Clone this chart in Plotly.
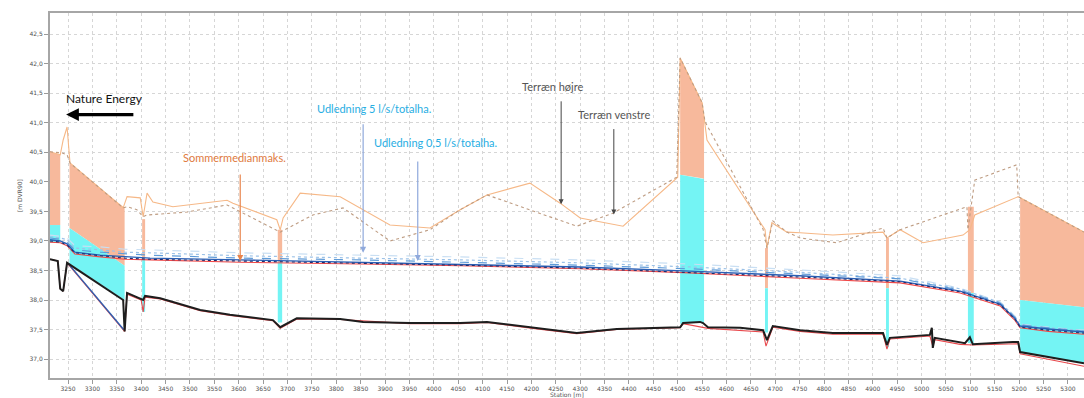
import plotly.graph_objects as go

# ---------------------------------------------------------------------------
# Length profile data: station [m] and levels [m DVR90]
# ---------------------------------------------------------------------------

# Channel bed (black) and lowest bed (red)
bed_station = [3213, 3229, 3234, 3240, 3248, 3363, 3366, 3371, 3404, 3408, 3439, 3521,
               3582, 3670, 3685, 3719, 3808, 3855, 3951, 4054, 4109, 4203, 4293, 4375,
               4505, 4511, 4546, 4552, 4562, 4628, 4675, 4683, 4695, 4751, 4818, 4921,
               4929, 4935, 5017, 5021, 5023, 5027, 5079, 5089, 5099, 5105, 5187, 5198,
               5202, 5333]
bed_level = [38.69, 38.66, 38.19, 38.15, 38.63, 38.00, 37.47, 38.12, 38.00, 38.07, 38.03, 37.83,
             37.75, 37.66, 37.54, 37.69, 37.68, 37.63, 37.61, 37.61, 37.63, 37.53, 37.44, 37.51,
             37.54, 37.61, 37.63, 37.61, 37.54, 37.53, 37.49, 37.32, 37.56, 37.49, 37.44, 37.44,
             37.24, 37.36, 37.41, 37.53, 37.19, 37.36, 37.29, 37.27, 37.37, 37.25, 37.29, 37.29,
             37.12, 36.93]

low_station = [3213, 3229, 3234, 3240, 3248, 3366, 3371, 3400, 3404, 3408, 3439, 3521,
               3582, 3670, 3685, 3719, 3808, 3951, 4054, 4109, 4203, 4293, 4375, 4505,
               4511, 4562, 4675, 4681, 4695, 4751, 4818, 4921, 4929, 4935, 5017, 5023,
               5027, 5079, 5105, 5187, 5198, 5202, 5333]
low_level = [38.69, 38.66, 38.19, 38.15, 38.63, 37.47, 38.10, 38.00, 37.80, 38.05, 38.02, 37.82,
             37.74, 37.65, 37.52, 37.68, 37.67, 37.60, 37.60, 37.62, 37.52, 37.43, 37.50, 37.53,
             37.60, 37.52, 37.46, 37.22, 37.54, 37.47, 37.42, 37.42, 37.17, 37.34, 37.39, 37.22,
             37.33, 37.25, 37.24, 37.26, 37.26, 37.09, 36.88]

# Short invert line through the first crossing
invert_station = [3250, 3364]
invert_level = [38.62, 37.50]

# Terrain, right and left bank
terrain_right_station = [3213, 3234, 3240, 3248, 3254, 3363, 3371, 3398, 3404, 3412, 3424, 3465,
                         3576, 3588, 3678, 3685, 3691, 3726, 3808, 3910, 3992, 4054, 4109, 4197,
                         4259, 4300, 4388, 4500, 4505, 4550, 4554, 4560, 4679, 4683, 4693, 4724,
                         4751, 4818, 4921, 4929, 4956, 5003, 5085, 5099, 5109, 5198, 5333]
terrain_right_level = [40.51, 40.46, 40.71, 40.93, 40.32, 39.56, 39.75, 39.73, 39.41, 39.81, 39.66, 39.58,
                       39.69, 39.64, 39.36, 39.19, 39.39, 39.81, 39.75, 39.27, 39.22, 39.53, 39.78, 39.98,
                       39.64, 39.39, 39.25, 40.08, 42.10, 41.34, 41.10, 40.71, 39.19, 38.88, 39.31, 39.15,
                       39.14, 39.10, 39.15, 39.05, 39.19, 38.97, 39.10, 39.19, 39.44, 39.75, 39.15]

terrain_left_station = [3213, 3238, 3248, 3254, 3363, 3371, 3391, 3404, 3412, 3494, 3576, 3685,
                        3752, 3814, 3910, 3992, 4054, 4109, 4293, 4367, 4498, 4505, 4550, 4556,
                        4675, 4683, 4695, 4724, 4751, 4826, 4921, 4929, 4956, 5093, 5095, 5109,
                        5195, 5198, 5333]
terrain_left_level = [40.51, 40.49, 40.46, 40.32, 39.56, 39.58, 39.53, 39.41, 39.44, 39.49, 39.61, 39.15,
                      39.44, 39.56, 39.00, 39.19, 39.53, 39.78, 39.25, 39.47, 40.08, 42.10, 41.34, 41.02,
                      39.20, 38.88, 39.34, 39.15, 39.05, 38.97, 39.22, 39.05, 39.19, 39.58, 39.19, 40.03,
                      40.29, 39.75, 39.15]

# Simulated water levels
wl_station = [3213, 3234, 3248, 3264, 3316, 3367, 3418, 3603, 3850, 4054,
              4300, 4525, 4750, 4956, 5079, 5161, 5191, 5202, 5260, 5333]
wl_a = [39.10, 39.08, 39.05, 38.92, 38.90, 38.86, 38.85, 38.80, 38.76, 38.73,
        38.68, 38.61, 38.51, 38.41, 38.20, 37.97, 37.73, 37.59, 37.54, 37.49]
wl_b = [39.07, 39.05, 39.02, 38.88, 38.85, 38.81, 38.80, 38.75, 38.71, 38.68,
        38.63, 38.56, 38.47, 38.37, 38.19, 37.96, 37.72, 37.58, 37.53, 37.48]
wl_c = [39.05, 39.03, 38.98, 38.85, 38.81, 38.78, 38.76, 38.71, 38.68, 38.64,
        38.59, 38.53, 38.44, 38.36, 38.17, 37.95, 37.71, 37.58, 37.53, 37.47]
wl_d = [39.02, 39.00, 38.95, 38.81, 38.76, 38.73, 38.71, 38.68, 38.64, 38.61,
        38.56, 38.49, 38.41, 38.32, 38.15, 37.93, 37.69, 37.56, 37.51, 37.46]
wl_e = [39.00, 38.98, 38.93, 38.80, 38.75, 38.71, 38.69, 38.66, 38.63, 38.59,
        38.54, 38.47, 38.39, 38.31, 38.14, 37.92, 37.68, 37.54, 37.49, 37.44]
wl_summer = [38.98, 38.97, 38.92, 38.78, 38.73, 38.69, 38.68, 38.64, 38.61, 38.58,
             38.53, 38.46, 38.37, 38.29, 38.12, 37.90, 37.66, 37.53, 37.47, 37.42]

# Crossings (culverts / road embankments): stations, embankment top, opening top, opening bottom
struct_station = [[3213, 3234], [3253, 3366], [3402, 3408], [3680, 3689],
                  [4505, 4550, 4554], [4679, 4685], [4927, 4933], [5095, 5107], [5202, 5333]]
struct_top = [[40.51, 40.46], [40.32, 39.56], [39.37, 39.37], [39.19, 39.19],
              [42.10, 41.34, 41.10], [38.88, 38.88], [39.05, 39.05], [39.58, 39.58], [39.73, 39.15]]
struct_soffit = [[39.27, 39.27], [39.22, 38.58], [38.70, 38.70], [38.64, 38.64],
                 [40.12, 40.06, 40.05], [38.20, 38.20], [38.20, 38.20], [38.12, 38.12], [38.00, 37.88]]
struct_invert = [[38.97, 38.97], [38.62, 38.00], [37.80, 37.80], [37.62, 37.62],
                 [37.60, 37.62, 37.62], [37.45, 37.45], [37.20, 37.20], [37.27, 37.27], [37.12, 36.93]]

x_ticks = list(range(3250, 5301, 50))
y_ticks = [37.0, 37.5, 38.0, 38.5, 39.0, 39.5, 40.0, 40.5, 41.0, 41.5, 42.0, 42.5]

SALMON = "#F7B99C"
CYAN = "#74F4F4"

fig = go.Figure()


def band(xs, upper, lower, color):
    fig.add_trace(go.Scatter(
        x=list(xs) + list(xs)[::-1],
        y=list(upper) + list(lower)[::-1],
        fill="toself", fillcolor=color, mode="lines",
        line=dict(width=0, color=color), hoverinfo="skip", showlegend=False))


for xs, top, sof, inv in zip(struct_station, struct_top, struct_soffit, struct_invert):
    band(xs, top, sof, SALMON)
    band(xs, sof, inv, CYAN)


def line(xs, ys, color, width=1.2, dash="solid"):
    fig.add_trace(go.Scatter(x=xs, y=ys, mode="lines",
                             line=dict(color=color, width=width, dash=dash),
                             hoverinfo="skip", showlegend=False))


line(terrain_right_station, terrain_right_level, "#F6B887", 1.1)
line(terrain_left_station, terrain_left_level, "#BE9C82", 1.1, "dot")

line(low_station, low_level, "#E8484C", 1.1)
line(invert_station, invert_level, "#2E5FB0", 1.4)
line(bed_station, bed_level, "#1E1E1E", 2.0)

line(wl_station, wl_summer, "#F04848", 1.1)
line(wl_station, wl_a, "#C9DFF3", 1.2, "dash")
line(wl_station, wl_b, "#9CC2E8", 1.2, "dot")
line(wl_station, wl_c, "#5F9BD8", 1.2, "dash")
line(wl_station, wl_d, "#2A5FB5", 1.4)
line(wl_station, wl_e, "#1F2D6E", 1.1, "dot")

TXT = "Lato"
annotations = []


def arrow(x, y_tail, y_head, color, width=1.0):
    annotations.append(dict(x=x, y=y_head, ax=x, ay=y_tail, xref="x", yref="y",
                            axref="x", ayref="y", text="", showarrow=True,
                            arrowhead=2, arrowsize=1, arrowwidth=width, arrowcolor=color))


def label(x, y, text, color, size=11):
    annotations.append(dict(x=x, y=y, xref="x", yref="y", text=text, showarrow=False,
                            font=dict(family=TXT, size=size, color=color)))


# Company and direction arrow
label(3324, 41.42, "Nature Energy", "#111111", 12)
annotations.append(dict(x=3246, y=41.14, ax=3387, ay=41.14, xref="x", yref="y",
                        axref="x", ayref="y", text="", showarrow=True,
                        arrowhead=2, arrowsize=0.8, arrowwidth=3.2, arrowcolor="#000000"))

label(3592, 40.41, "Sommermedianmaks.", "#E07A3E", 11)
arrow(3603, 40.15, 38.66, "#E8844C", 1.2)

label(3877, 41.25, "Udledning 5 l/s/totalha.", "#27AEE3", 11)
arrow(3855, 41.00, 38.80, "#8FA9DC", 1.2)

label(4004, 40.66, "Udledning 0,5 l/s/totalha.", "#27AEE3", 11)
arrow(3967, 40.37, 38.66, "#8FA9DC", 1.2)

label(4244, 41.61, "Terræn højre", "#555555", 11)
arrow(4261, 41.39, 39.62, "#454545", 1.0)

label(4369, 41.14, "Terræn venstre", "#555555", 11)
arrow(4369, 40.92, 39.45, "#454545", 1.0)

# Axis titles
annotations.append(dict(x=0.5, y=0, xref="paper", yref="paper", yshift=-16,
                        text="Station [m]", showarrow=False, yanchor="middle",
                        font=dict(family="DejaVu Sans", size=6, color="#555555")))
annotations.append(dict(x=0, y=0.5, xref="paper", yref="paper", xshift=-36,
                        text="[m DVR90]", showarrow=False, textangle=-90,
                        font=dict(family="DejaVu Sans", size=6, color="#555555")))

fig.update_layout(
    width=1084, height=398,
    margin=dict(l=50, r=0, t=13, b=20),
    paper_bgcolor="white", plot_bgcolor="white",
    separators=",.",
    showlegend=False,
    annotations=annotations,
)
fig.update_xaxes(
    range=[3213, 5333], tickvals=x_ticks, ticktext=[str(v) for v in x_ticks],
    showline=True, linecolor="#A6A6A6", linewidth=2, mirror=True,
    ticks="outside", ticklen=4, tickcolor="#9A9A9A",
    tickfont=dict(family="DejaVu Sans", size=6, color="#505050"),
    showgrid=True, gridcolor="#D6D6D6", griddash="dot", gridwidth=1, zeroline=False,
)
fig.update_yaxes(
    range=[36.68, 42.86], tickvals=y_ticks, tickformat=".1f",
    showline=True, linecolor="#A6A6A6", linewidth=2,
    ticks="outside", ticklen=4, tickcolor="#9A9A9A",
    tickfont=dict(family="DejaVu Sans", size=6, color="#505050"),
    showgrid=True, gridcolor="#D6D6D6", griddash="dot", gridwidth=1, zeroline=False,
)

fig.write_html("out.html")
